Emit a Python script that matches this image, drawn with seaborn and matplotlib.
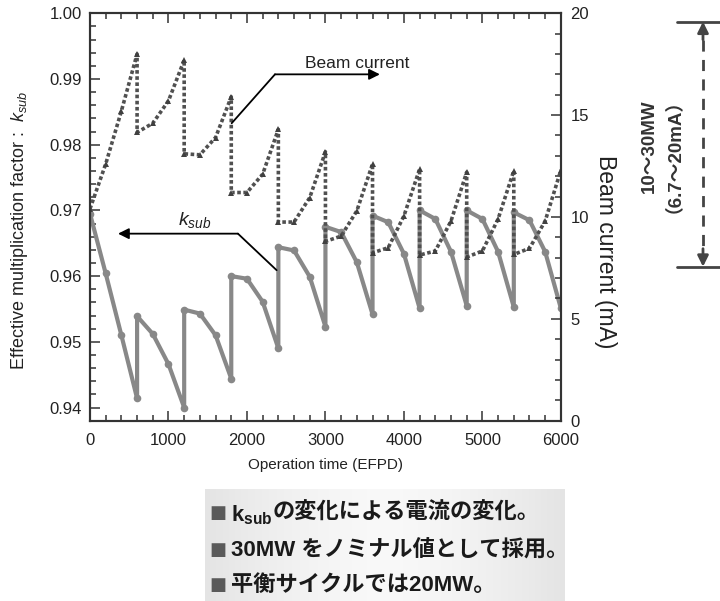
import numpy as np
import pandas as pd
import seaborn as sns
import matplotlib.pyplot as plt
from matplotlib.ticker import MultipleLocator
from matplotlib.lines import Line2D

# values (10 cycles of 600 EFPD, 4 points each)
time_efpd = [0, 200, 400, 600,
             600, 800, 1000, 1200,
             1200, 1400, 1600, 1800,
             1800, 2000, 2200, 2400,
             2400, 2600, 2800, 3000,
             3000, 3200, 3400, 3600,
             3600, 3800, 4000, 4200,
             4200, 4400, 4600, 4800,
             4800, 5000, 5200, 5400,
             5400, 5600, 5800, 6000]

k_sub = [0.9695, 0.9604, 0.9510, 0.9414,
         0.9539, 0.9512, 0.9466, 0.9400,
         0.9549, 0.9543, 0.9510, 0.9444,
         0.9600, 0.9596, 0.9561, 0.9490,
         0.9644, 0.9639, 0.9599, 0.9523,
         0.9675, 0.9667, 0.9621, 0.9542,
         0.9692, 0.9682, 0.9634, 0.9551,
         0.9700, 0.9687, 0.9637, 0.9555,
         0.9700, 0.9687, 0.9637, 0.9553,
         0.9697, 0.9685, 0.9637, 0.9551]

beam_ma = [10.4, 12.6, 15.2, 18.0,
           14.15, 14.6, 15.7, 17.7,
           13.1, 13.05, 13.9, 15.9,
           11.2, 11.2, 12.1, 14.3,
           9.75, 9.75, 10.95, 13.2,
           8.8, 9.06, 10.3, 12.6,
           8.24, 8.49, 10.05, 12.35,
           8.13, 8.33, 9.8, 12.2,
           8.03, 8.33, 9.9, 12.27,
           8.16, 8.46, 9.8, 12.3]

# bullet lines (first one starts with k_sub, drawn separately)
bullet_head = ["$\\mathbf{k_{sub}}$", "", ""]
bullet_rest = ["の変化による電流の変化。",
               "30MW をノミナル値として採用。",
               "平衡サイクルでは20MW。"]

df = pd.DataFrame({"time": time_efpd, "ksub": k_sub, "beam": beam_ma})

sns.set_theme(style="ticks")
plt.rcParams['font.family'] = ['Liberation Sans', 'Noto Sans CJK JP', 'DejaVu Sans']
plt.rcParams['mathtext.fontset'] = 'custom'
plt.rcParams['mathtext.rm'] = 'Liberation Sans'
plt.rcParams['mathtext.it'] = 'Liberation Sans:italic'
plt.rcParams['mathtext.bf'] = 'Liberation Sans:bold'

fig = plt.figure(figsize=(7.2, 6.01), dpi=100)
ax = fig.add_axes([0.125, 0.30, 0.654, 0.678])
ax2 = ax.twinx()

sns.lineplot(data=df, x="time", y="ksub", ax=ax, estimator=None, sort=False,
             color="#888888", linewidth=3, marker="o", markersize=5.5,
             markeredgewidth=0, markerfacecolor="#888888")
sns.lineplot(data=df, x="time", y="beam", ax=ax2, estimator=None, sort=False,
             color="#505050", linewidth=2.6, linestyle=(0, (1.0, 0.7)),
             marker="^", markersize=5, markeredgewidth=0,
             markerfacecolor="#404040")

ax.set_xlim(0, 6000)
ax.set_ylim(0.938, 1.0)
ax2.set_ylim(0, 20)

ax.xaxis.set_major_locator(MultipleLocator(1000))
ax.xaxis.set_minor_locator(MultipleLocator(200))
ax.yaxis.set_major_locator(MultipleLocator(0.01))
ax.yaxis.set_minor_locator(MultipleLocator(0.002))
ax2.yaxis.set_major_locator(MultipleLocator(5))
ax2.yaxis.set_minor_locator(MultipleLocator(1))
ax.yaxis.set_major_formatter(plt.FormatStrFormatter('%.2f'))

for a in (ax, ax2):
    for s in a.spines.values():
        s.set_linewidth(1.5)
        s.set_color("#333333")
        s.set_visible(True)
ax.tick_params(which="both", direction="in", top=True, right=False, width=1.1,
               color="#333333", labelsize=12, labelcolor="#222222")
ax.tick_params(which="major", length=7)
ax.tick_params(which="minor", length=4)
ax.tick_params(axis="x", which="major", pad=9)
ax.tick_params(axis="y", which="major", pad=6)
ax2.tick_params(which="both", direction="in", width=1.1, color="#333333",
                labelsize=12, labelcolor="#222222")
ax2.tick_params(which="major", length=7, pad=7)
ax2.tick_params(which="minor", length=4)

ax.set_xlabel("Operation time (EFPD)", fontsize=11, color="#222222", labelpad=7)
ax.set_ylabel("Effective multiplication factor :  $k_{sub}$", fontsize=13,
              color="#222222")
ax.yaxis.set_label_coords(-0.128, 0.467)
ax2.set_ylabel("Beam current (mA)", fontsize=16.5, color="#222222",
               rotation=270, va="center")
ax2.yaxis.set_label_coords(1.094, 0.416)

# Beam current pointer
ax2.plot([1805, 2357], [14.6, 17.0], color="black", linewidth=1.3)
ax2.annotate("", xy=(3694, 17.0), xytext=(2357, 17.0),
             arrowprops=dict(arrowstyle="-|>", color="black", lw=1.3,
                             mutation_scale=16, shrinkA=0, shrinkB=0))
ax2.text(2740, 17.55, "Beam current", fontsize=12.5, va="center", ha="left",
         color="#222222")

# k_sub pointer
ax.plot([2378, 1885], [0.9609, 0.96646], color="black", linewidth=1.3)
ax.annotate("", xy=(357, 0.96646), xytext=(1885, 0.96646),
            arrowprops=dict(arrowstyle="-|>", color="black", lw=1.3,
                            mutation_scale=16, shrinkA=0, shrinkB=0))
ax.text(1115, 0.9686, "$k_{sub}$", fontsize=14, va="center", ha="left",
        color="#222222")

# range marker on the right
x_r = 703 / 720
y_top = 1 - 21.7 / 601
y_bot = 1 - 266.7 / 601
for yy in (y_top, y_bot):
    fig.add_artist(Line2D([677 / 720, 1.0], [yy, yy], color="#444444", lw=2))
fig.add_artist(Line2D([x_r, x_r], [y_top - 0.03, y_bot + 0.03], color="#444444",
                      lw=2, linestyle=(0, (4, 3))))
for y_tip, y_tail in ((y_top, y_top - 0.03), (y_bot, y_bot + 0.03)):
    ax.annotate("", xy=(x_r, y_tip), xytext=(x_r, y_tail),
                xycoords="figure fraction", textcoords="figure fraction",
                arrowprops=dict(arrowstyle="-|>", color="#444444", lw=2,
                                mutation_scale=16, shrinkA=0, shrinkB=0),
                annotation_clip=False)
fig.text(657 / 720, 1 - 146 / 601, "10～30MW\n（6.7～20mA）", rotation=90,
         ha="center", va="center", multialignment="center", fontsize=13.5,
         fontweight="bold", color="#333333", linespacing=0.85)

# bullet box with light gradient
box_ax = fig.add_axes([205 / 720, 0, 360 / 720, 1 - 489 / 601])
shade = 0.975 - 0.08 * np.abs(np.linspace(-1, 1, 200)) ** 1.5
grad = np.repeat(shade[None, :, None], 3, axis=2)
box_ax.imshow(grad, aspect="auto", extent=[0, 1, 0, 1], vmin=0, vmax=1)
box_ax.set_axis_off()

fig.canvas.draw()
renderer = fig.canvas.get_renderer()
row_y = [513, 550, 585]
for head, rest, yy in zip(bullet_head, bullet_rest, row_y):
    fy = 1 - yy / 601
    fig.text(209 / 720, fy, "■", fontsize=13, color="#5a5a5a",
             va="center", ha="left", family=['DejaVu Sans'])
    x0 = 231 / 720
    if head:
        th = fig.text(x0, fy - 0.004, head, fontsize=16, color="#1a1a1a",
                      va="center", ha="left")
        bb = th.get_window_extent(renderer=renderer)
        x0 = bb.x1 / fig.bbox.width
    fig.text(x0, fy, rest, fontsize=16, fontweight="bold",
             color="#1a1a1a", va="center", ha="left",
             family=['Liberation Sans', 'Noto Sans CJK JP'])

fig.savefig("out.png", dpi=100)
